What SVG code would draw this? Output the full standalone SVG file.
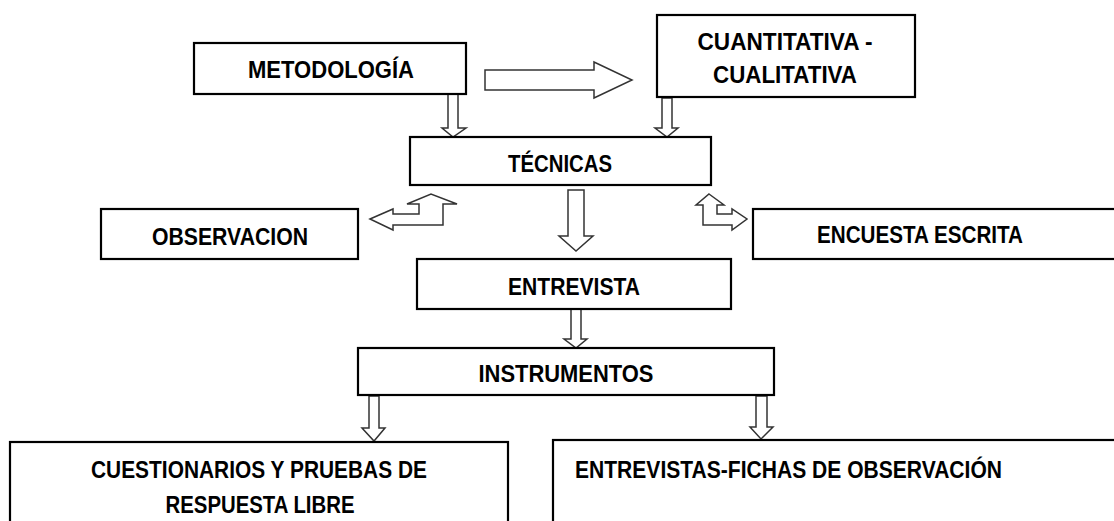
<svg xmlns="http://www.w3.org/2000/svg" width="1114" height="521" viewBox="0 0 1114 521">
<style>
.box{fill:#fff;stroke:#000;stroke-width:2.2}
.arr{fill:#fff;stroke:#333;stroke-width:1.5;stroke-linejoin:miter}
.t{font-family:"Liberation Sans",Arial,sans-serif;font-weight:bold;font-size:23px;fill:#000;text-anchor:middle}
.tl{font-family:"Liberation Sans",Arial,sans-serif;font-weight:bold;font-size:23px;fill:#000}
</style>
<rect width="1114" height="521" fill="#fff"/>
<g id="connectors">
  <polygon class="arr" points="485,70 594,70 594,62 632,80 594,98 594,90 485,90"/>
  <polygon class="arr" points="448,93 458,93 458,128 466,128 453,137 442,128 448,128"/>
  <polygon class="arr" points="662,98 672,98 672,128 678,128 667,137 655,128 662,128"/>
  <polygon class="arr" points="568,190 584,190 584,236 593,236 576,251 559,236 568,236"/>
  <polygon class="arr" points="370,219 393,209 393,214 419,214 419,204 407,204 431,194 457,204 443,204 443,225 393,225 393,230"/>
  <polygon class="arr" points="709,194 724,205 717,205 717,214 732,214 732,209 747,219 732,230 732,225 703,225 703,205 696,205"/>
  <polygon class="arr" points="571,309 581,309 581,339 587,339 576,348 564,339 571,339"/>
  <polygon class="arr" points="369,396 379,396 379,428 385,428 374,441 362,428 369,428"/>
  <polygon class="arr" points="756,396 767,396 767,427 773,427 761,439 750,427 756,427"/>
</g>
<g id="metodologia">
  <rect class="box" x="194" y="43" width="272" height="51"/>
  <text class="t" x="331" y="78" textLength="166" lengthAdjust="spacingAndGlyphs">METODOLOGÍA</text>
</g>
<g id="cuantitativa">
  <rect class="box" x="657" y="15" width="258" height="82"/>
  <text class="t" x="785" y="50" textLength="175" lengthAdjust="spacingAndGlyphs">CUANTITATIVA -</text>
  <text class="t" x="785" y="83" textLength="144" lengthAdjust="spacingAndGlyphs">CUALITATIVA</text>
</g>
<g id="tecnicas">
  <rect class="box" x="410" y="137" width="301" height="48"/>
  <text class="t" x="560" y="172" textLength="104" lengthAdjust="spacingAndGlyphs">TÉCNICAS</text>
</g>
<g id="observacion">
  <rect class="box" x="101" y="209" width="257" height="50"/>
  <text class="t" x="230" y="245" textLength="156" lengthAdjust="spacingAndGlyphs">OBSERVACION</text>
</g>
<g id="encuesta">
  <rect class="box" x="753" y="209" width="380" height="50"/>
  <text class="t" x="920" y="243" textLength="206" lengthAdjust="spacingAndGlyphs">ENCUESTA ESCRITA</text>
</g>
<g id="entrevista">
  <rect class="box" x="417" y="259" width="314" height="50"/>
  <text class="t" x="574" y="295" textLength="132" lengthAdjust="spacingAndGlyphs">ENTREVISTA</text>
</g>
<g id="instrumentos">
  <rect class="box" x="358" y="348" width="416" height="47"/>
  <text class="t" x="566" y="382" textLength="175" lengthAdjust="spacingAndGlyphs">INSTRUMENTOS</text>
</g>
<g id="cuestionarios">
  <rect class="box" x="10" y="442" width="498" height="100"/>
  <text class="t" x="259" y="478" textLength="336" lengthAdjust="spacingAndGlyphs">CUESTIONARIOS Y PRUEBAS DE</text>
  <text class="t" x="260" y="513" textLength="189" lengthAdjust="spacingAndGlyphs">RESPUESTA LIBRE</text>
</g>
<g id="entrevistas-fichas">
  <rect class="box" x="553" y="440" width="580" height="100"/>
  <text class="tl" x="575" y="478" textLength="427" lengthAdjust="spacingAndGlyphs">ENTREVISTAS-FICHAS DE OBSERVACIÓN</text>
</g>
</svg>
